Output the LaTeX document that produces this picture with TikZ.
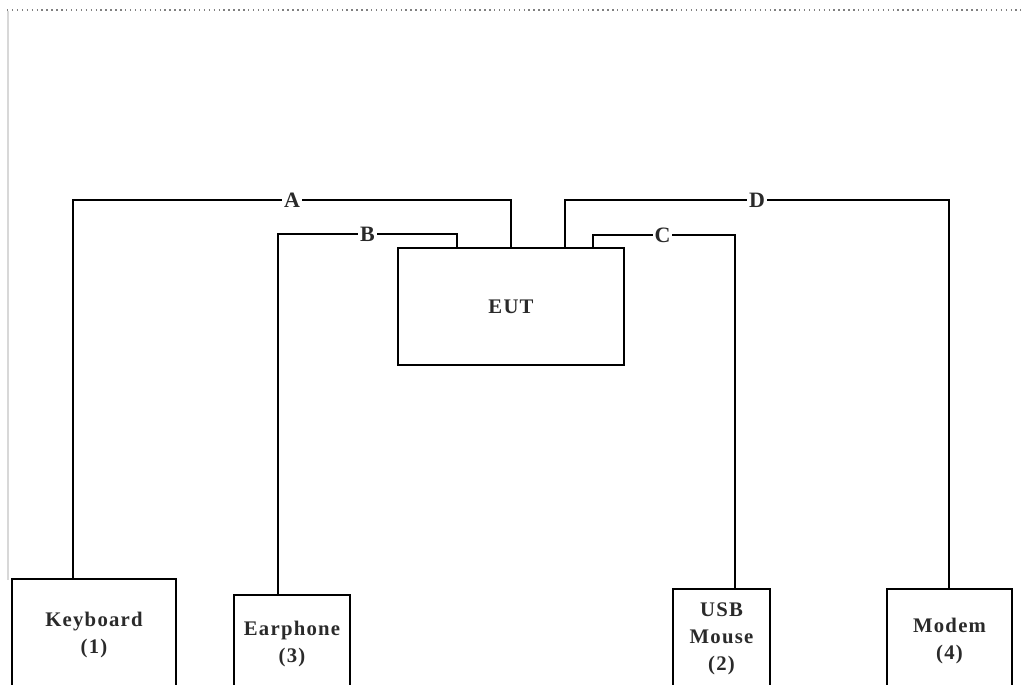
\documentclass[tikz,border=0pt]{standalone}
\usepackage{fontspec}
\setmainfont{Liberation Serif}[LetterSpace=6]
\usepackage{xcolor}
\usepackage{tikz}
\usetikzlibrary{positioning,calc}
\definecolor{ink}{HTML}{2A2A2A}
\definecolor{frame}{HTML}{D8D8D8}
\tikzset{
    every picture/.style={line join=miter},
    devbox/.style={draw=black,line width=1.6pt,align=center,inner sep=0pt,
      font=\fontsize{11.8}{15.5}\selectfont\bfseries,text=ink},
    wire/.style={draw=black,line width=1.6pt},
    wirelabel/.style={fill=white,inner xsep=1pt,inner ysep=0pt,text=ink,
      font=\fontsize{12.5}{12}\selectfont\bfseries}
}
\begin{document}
\begin{tikzpicture}[x=0.02cm,y=-0.02cm]
  \useasboundingbox (0,0) rectangle (1021,684);
  \clip (0,0) rectangle (1021,684);
  % page edges
  \draw[gray,line width=0.8pt,dotted] (7,10) -- (1021,10);
  \draw[frame,line width=1.6pt] (8,11) -- (8,580);
  % devices
  \node[devbox,minimum width=226*0.02cm,minimum height=117*0.02cm] (eut) at (511,306.5) {EUT};
  \node[devbox,minimum width=164*0.02cm,minimum height=112*0.02cm] (kbd) at (94,635) {Keyboard\\(1)};
  \node[devbox,minimum width=116*0.02cm,minimum height=98*0.02cm] (ear) at (292,644) {Earphone\\(3)};
  \node[devbox,minimum width=97*0.02cm,minimum height=100*0.02cm] (mouse) at (721.5,639) {USB\\Mouse\\(2)};
  \node[devbox,minimum width=125*0.02cm,minimum height=104*0.02cm] (modem) at (949.5,641) {Modem\\(4)};
  % cable corners
  \coordinate (a1) at (511,200);
  \coordinate (a2) at (73,200);
  \coordinate (b1) at (457,234);
  \coordinate (b2) at (278,234);
  \coordinate (c1) at (593,235);
  \coordinate (c2) at (735,235);
  \coordinate (d1) at (565,200);
  \coordinate (d2) at (949,200);
  % cables
  \draw[wire] (a1 |- eut.north) -- (a1) -- node[wirelabel,pos=0.5]{A} (a2) -- (a2 |- kbd.north);
  \draw[wire] (b1 |- eut.north) -- (b1) -- node[wirelabel,pos=0.5]{B} (b2) -- (b2 |- ear.north);
  \draw[wire] (c1 |- eut.north) -- (c1) -- node[wirelabel,pos=0.49]{C} (c2) -- (c2 |- mouse.north);
  \draw[wire] (d1 |- eut.north) -- (d1) -- node[wirelabel,pos=0.5]{D} (d2) -- (d2 |- modem.north);
\end{tikzpicture}
\end{document}
